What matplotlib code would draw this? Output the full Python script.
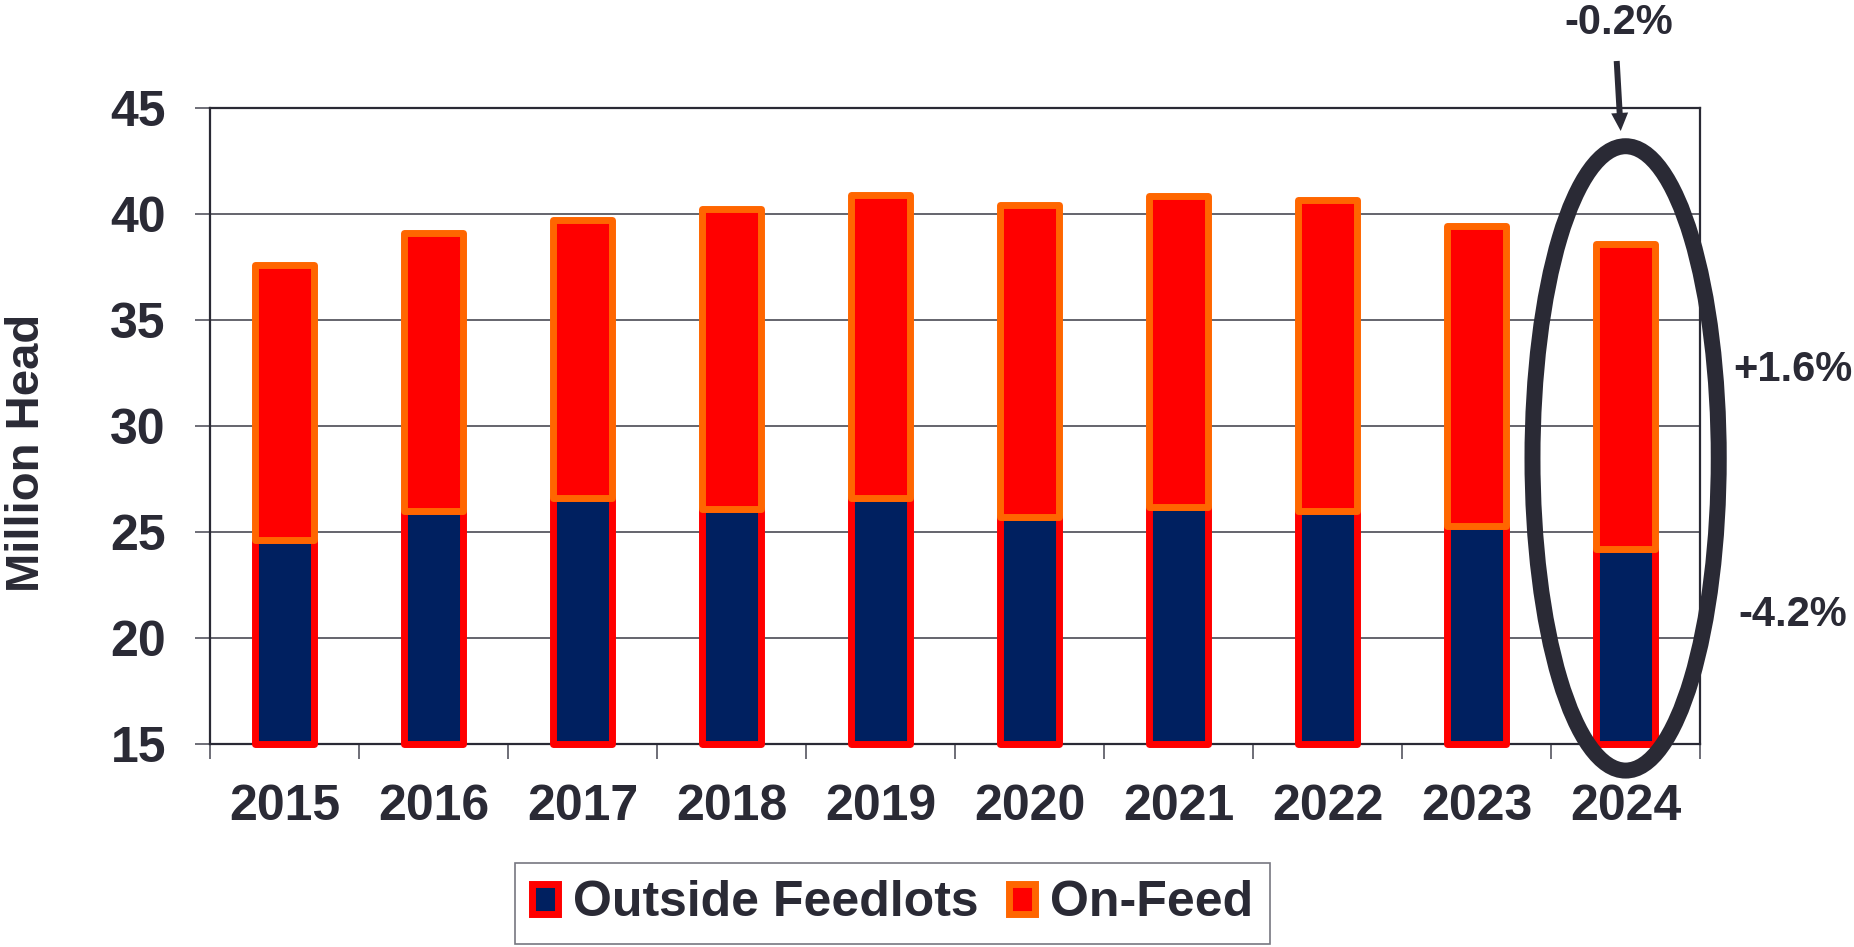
import matplotlib
matplotlib.use('Agg')
import matplotlib.pyplot as plt
from matplotlib.patches import Ellipse, Patch, FancyArrowPatch
import numpy as np

# ---- data (million head) ----
years = ['2015', '2016', '2017', '2018', '2019', '2020', '2021', '2022', '2023', '2024']
outside_feedlots = [24.6, 26.0, 26.6, 26.1, 26.6, 25.7, 26.2, 26.0, 25.3, 24.2]
on_feed = [13.0, 13.1, 13.1, 14.15, 14.3, 14.7, 14.65, 14.65, 14.15, 14.4]
y_ticks = [15, 20, 25, 30, 35, 40, 45]
baseline = 15
series_labels = ['Outside Feedlots', 'On-Feed']
change_total = '-0.2%'
change_on_feed = '+1.6%'
change_outside = '-4.2%'

NAVY = '#002060'
RED = '#FF0000'
ORANGE = '#FF6600'
DARK = '#2a2a35'
GRID = '#3a3a45'

plt.rcParams['font.family'] = ['Liberation Sans', 'DejaVu Sans']
plt.rcParams['font.weight'] = 'bold'
plt.rcParams['axes.labelweight'] = 'bold'
plt.rcParams['text.color'] = DARK

fig = plt.figure(figsize=(18.54, 9.47), dpi=100)
ax = fig.add_axes([0.1133, 0.2144, 0.8037, 0.6716])

x = np.arange(len(years))
bottom_heights = [v - baseline for v in outside_feedlots]
ax.bar(x, bottom_heights, bottom=baseline, width=0.4, color=NAVY, edgecolor=RED,
       linewidth=5, zorder=3, clip_on=False, joinstyle='round')
ax.bar(x, on_feed, bottom=outside_feedlots, width=0.4, color=RED, edgecolor=ORANGE,
       linewidth=5, zorder=4, clip_on=False, joinstyle='round')

ax.set_xlim(-0.5, len(years) - 0.5)
ax.set_ylim(y_ticks[0], y_ticks[-1])

ax.set_xticks(x, years)
ax.set_xticks(np.arange(-0.5, len(years), 1.0), minor=True)
ax.tick_params(axis='x', which='major', length=0, pad=29, labelsize=36, labelcolor=DARK)
ax.tick_params(axis='x', which='minor', length=10.8, width=1.2, color='#555560')
ax.set_yticks(y_ticks)
ax.tick_params(axis='y', which='major', length=10.8, width=1.2, color='#555560',
               pad=21, labelsize=36, labelcolor=DARK)

ax.grid(axis='y', color=GRID, linewidth=1.1)
ax.set_axisbelow(True)
for s in ax.spines.values():
    s.set_color(DARK)
    s.set_linewidth(1.6)

ax.set_ylabel('Million Head', fontsize=34, fontweight='bold', color=DARK,
              va='center', ha='center')
ax.yaxis.set_label_coords(-0.1228, 0.4575)

# highlight ellipse around the last year
ell = Ellipse((len(years) - 1, 28.47), width=1.25, height=29.45, fill=False,
              linewidth=11.5, edgecolor=DARK, clip_on=False, zorder=6)
ax.add_patch(ell)

# arrow and change labels
arr = FancyArrowPatch((1616.7 / 1854, 1 - 61 / 947), (1620.7 / 1854, 1 - 131 / 947),
                      transform=fig.transFigure,
                      arrowstyle='simple,head_length=1.3,head_width=1.22,tail_width=0.43',
                      mutation_scale=10, color=DARK, lw=0, shrinkA=0, shrinkB=0)
fig.patches.append(arr)
fig.text(1619 / 1854, 1 - 23 / 947, change_total, fontsize=30, ha='center', va='center')
fig.text(1793 / 1854, 1 - 370 / 947, change_on_feed, fontsize=30, ha='center', va='center')
fig.text(1792.5 / 1854, 1 - 614.5 / 947, change_outside, fontsize=30, ha='center', va='center')

handles = [Patch(facecolor=NAVY, edgecolor=RED, linewidth=5),
           Patch(facecolor=RED, edgecolor=ORANGE, linewidth=5)]
leg = fig.legend(handles, series_labels, loc='center', bbox_to_anchor=(0.4814, 0.046),
                 ncol=2, fontsize=36, frameon=True, fancybox=False, edgecolor='#555560',
                 handlelength=0.52, handleheight=0.54, handletextpad=0.3,
                 columnspacing=0.6, borderpad=0.35, borderaxespad=0)
leg.get_frame().set_linewidth(1.2)
for t in leg.get_texts():
    t.set_color(DARK)

fig.savefig('out.png', dpi=100)
